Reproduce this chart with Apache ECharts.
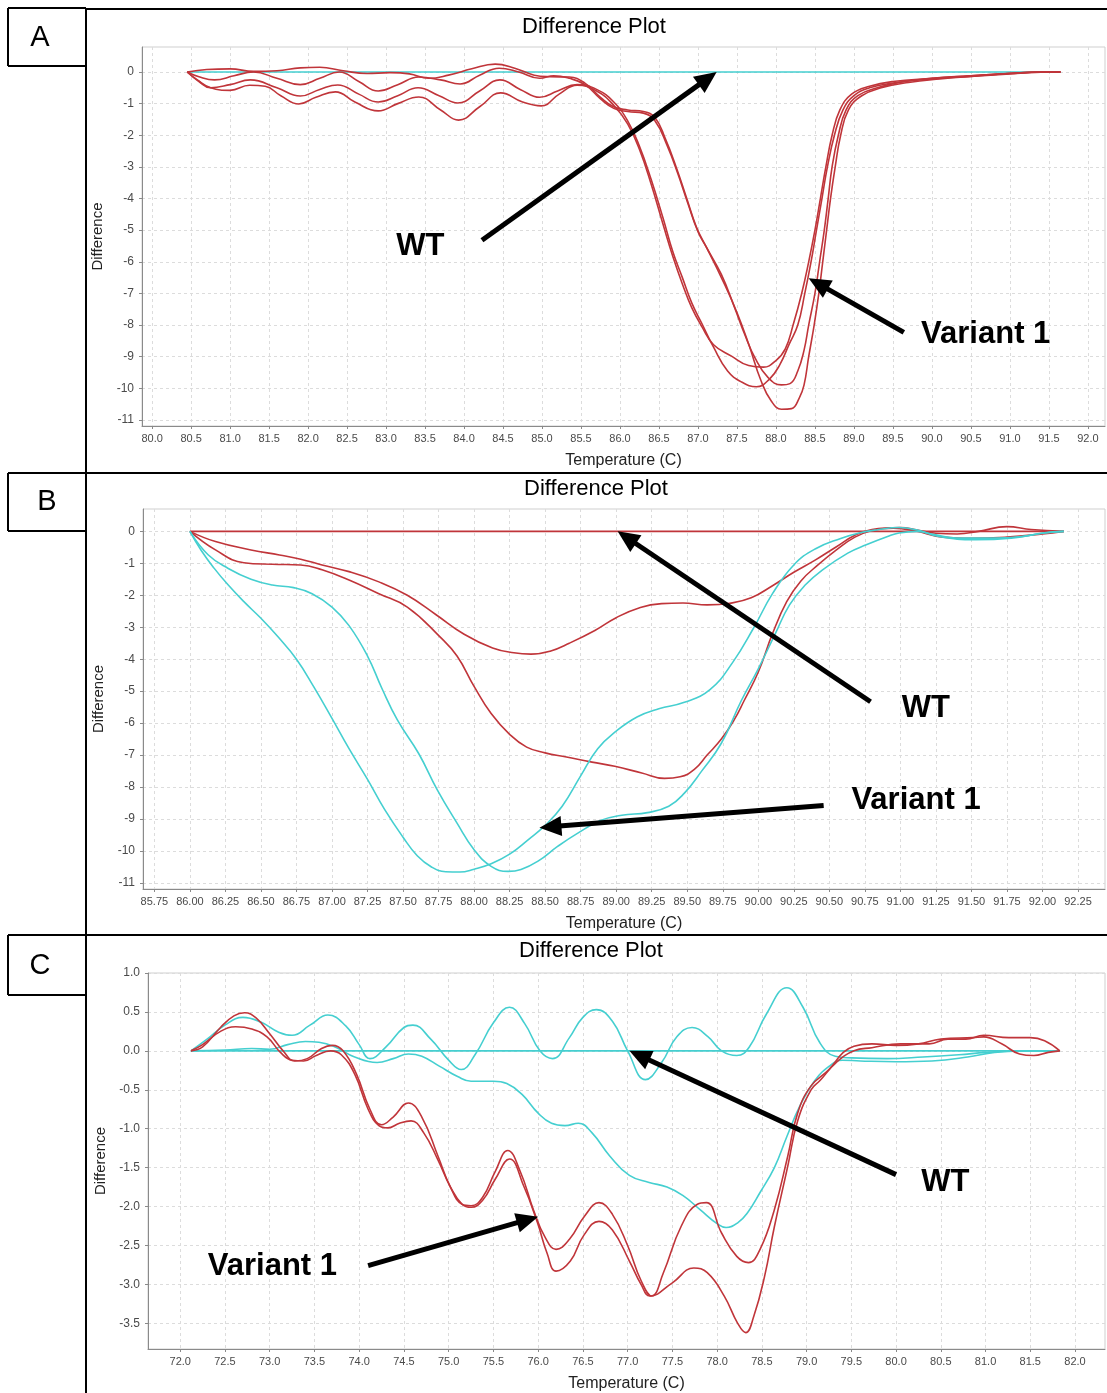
<!DOCTYPE html>
<html>
<head>
<meta charset="utf-8">
<title>Difference Plot</title>
<script src="https://cdn.jsdelivr.net/npm/echarts@6/dist/echarts.min.js"></script>
<style>
  html, body { margin: 0; padding: 0; background: #fff; }
  #chart { width: 1107px; height: 1393px; }
</style>
</head>
<body>
<div id="chart"></div>
<script>
// ---------------- tick labels ----------------
const A_XTICKS = [80.0, 80.5, 81.0, 81.5, 82.0, 82.5, 83.0, 83.5, 84.0, 84.5, 85.0, 85.5, 86.0, 86.5, 87.0, 87.5, 88.0, 88.5, 89.0, 89.5, 90.0, 90.5, 91.0, 91.5, 92.0];
const A_YTICKS = [-11, -10, -9, -8, -7, -6, -5, -4, -3, -2, -1, 0];
const B_XTICKS = [85.75, 86.00, 86.25, 86.50, 86.75, 87.00, 87.25, 87.50, 87.75, 88.00, 88.25, 88.50, 88.75, 89.00, 89.25, 89.50, 89.75, 90.00, 90.25, 90.50, 90.75, 91.00, 91.25, 91.50, 91.75, 92.00, 92.25];
const B_YTICKS = [-11, -10, -9, -8, -7, -6, -5, -4, -3, -2, -1, 0];
const C_XTICKS = [72.0, 72.5, 73.0, 73.5, 74.0, 74.5, 75.0, 75.5, 76.0, 76.5, 77.0, 77.5, 78.0, 78.5, 79.0, 79.5, 80.0, 80.5, 81.0, 81.5, 82.0];
const C_YTICKS = [-3.5, -3.0, -2.5, -2.0, -1.5, -1.0, -0.5, 0.0, 0.5, 1.0];

// ---------------- panel A : [temperature, difference] ----------------
const A_WT = [[80.45, 0], [91.65, 0]];
const A_VAR1_1 = [[80.45,0],[80.7,0.08],[81.0,0.1],[81.3,0.02],[81.6,0.04],[81.9,0.13],[82.15,0.15],[82.45,0.04],[82.75,-0.05],[83.05,-0.02],[83.3,-0.06],[83.55,-0.2],[83.8,-0.1],[84.1,0.1],[84.4,0.25],[84.65,0.12],[84.9,-0.1],[85.1,-0.15],[85.35,-0.16],[85.55,-0.35],[85.75,-0.8],[85.92,-1.1],[86.1,-1.2],[86.3,-1.25],[86.45,-1.45],[86.58,-2.1],[86.72,-3.0],[86.85,-3.95],[86.98,-4.9],[87.1,-5.5],[87.3,-6.4],[87.47,-7.45],[87.6,-8.3],[87.73,-9.03],[87.9,-9.66],[88.07,-9.89],[88.18,-9.85],[88.28,-9.45],[88.36,-8.8],[88.42,-8.0],[88.5,-7.0],[88.56,-6.0],[88.62,-5.0],[88.67,-4.0],[88.72,-3.0],[88.8,-2.0],[88.9,-1.2],[89.05,-0.75],[89.3,-0.5],[89.6,-0.32],[90.0,-0.2],[90.5,-0.12],[91.0,-0.04],[91.4,0],[91.65,0]];
const A_VAR1_2 = [[80.45,0],[80.6,-0.15],[80.8,-0.25],[81.05,-0.12],[81.3,0.0],[81.6,-0.2],[81.9,-0.4],[82.15,-0.2],[82.4,0.0],[82.65,-0.3],[82.9,-0.6],[83.15,-0.4],[83.42,-0.16],[83.7,-0.25],[83.95,-0.38],[84.2,-0.1],[84.45,0.12],[84.7,0.0],[84.97,-0.2],[85.15,-0.12],[85.35,-0.2],[85.55,-0.4],[85.75,-0.85],[85.92,-1.15],[86.1,-1.25],[86.3,-1.3],[86.45,-1.55],[86.6,-2.3],[86.74,-3.2],[86.87,-4.15],[87.0,-5.05],[87.12,-5.6],[87.32,-6.6],[87.5,-7.6],[87.65,-8.6],[87.81,-9.77],[87.94,-10.4],[88.07,-10.66],[88.2,-10.64],[88.3,-10.3],[88.36,-9.9],[88.42,-9.0],[88.49,-8.0],[88.55,-7.0],[88.6,-6.0],[88.65,-5.0],[88.7,-4.0],[88.76,-3.0],[88.83,-2.0],[88.93,-1.2],[89.1,-0.75],[89.35,-0.5],[89.7,-0.33],[90.1,-0.22],[90.6,-0.12],[91.0,-0.05],[91.4,0],[91.65,0]];
const A_VAR1_3 = [[80.45,0],[80.6,-0.3],[80.75,-0.5],[81.0,-0.4],[81.26,-0.25],[81.6,-0.5],[81.9,-0.76],[82.15,-0.55],[82.38,-0.41],[82.65,-0.7],[82.9,-0.95],[83.15,-0.75],[83.41,-0.5],[83.68,-0.75],[83.92,-0.98],[84.2,-0.6],[84.46,-0.25],[84.72,-0.55],[84.97,-0.8],[85.2,-0.6],[85.45,-0.4],[85.7,-0.55],[85.92,-0.95],[86.1,-1.55],[86.25,-2.35],[86.4,-3.4],[86.55,-4.6],[86.68,-5.7],[86.8,-6.5],[86.92,-7.3],[87.05,-7.95],[87.2,-8.7],[87.38,-9.45],[87.56,-9.8],[87.75,-9.95],[87.92,-9.7],[88.05,-9.25],[88.17,-8.6],[88.28,-8.0],[88.37,-7.0],[88.45,-6.0],[88.52,-5.0],[88.59,-4.0],[88.66,-3.0],[88.75,-2.0],[88.86,-1.2],[89.0,-0.75],[89.2,-0.5],[89.5,-0.35],[90.0,-0.22],[90.5,-0.14],[91.0,-0.06],[91.4,-0.01],[91.65,0]];
const A_VAR1_4 = [[80.45,0],[80.58,-0.25],[80.75,-0.5],[81.0,-0.58],[81.25,-0.42],[81.45,-0.45],[81.65,-0.75],[81.88,-1.01],[82.1,-0.8],[82.35,-0.63],[82.6,-0.95],[82.9,-1.23],[83.15,-1.0],[83.42,-0.79],[83.7,-1.2],[83.93,-1.52],[84.2,-1.1],[84.47,-0.66],[84.75,-0.95],[84.99,-1.07],[85.22,-0.7],[85.45,-0.42],[85.7,-0.6],[85.92,-1.05],[86.1,-1.65],[86.25,-2.45],[86.4,-3.55],[86.55,-4.8],[86.68,-5.85],[86.8,-6.7],[86.92,-7.45],[87.05,-8.05],[87.2,-8.62],[87.43,-8.98],[87.65,-9.28],[87.84,-9.33],[88.0,-9.12],[88.12,-8.75],[88.22,-8.0],[88.33,-7.0],[88.42,-6.0],[88.5,-5.0],[88.57,-4.0],[88.64,-3.0],[88.72,-2.0],[88.82,-1.2],[88.97,-0.7],[89.2,-0.45],[89.5,-0.3],[90.0,-0.2],[90.5,-0.12],[91.0,-0.05],[91.4,0],[91.65,0]];

// ---------------- panel B ----------------
const B_WT = [[86.0, 0], [92.15, 0]];
const B_RED_1 = [[86.0,0],[86.18,-0.32],[86.43,-0.58],[86.63,-0.74],[86.78,-0.87],[86.93,-1.05],[87.12,-1.26],[87.33,-1.58],[87.53,-2.0],[87.73,-2.6],[87.93,-3.22],[88.13,-3.65],[88.28,-3.8],[88.4,-3.84],[88.54,-3.74],[88.67,-3.5],[88.85,-3.1],[89.0,-2.7],[89.17,-2.38],[89.32,-2.26],[89.47,-2.24],[89.64,-2.3],[89.8,-2.25],[89.95,-2.08],[90.1,-1.7],[90.25,-1.28],[90.4,-0.9],[90.55,-0.48],[90.68,-0.12],[90.8,0.06],[91.0,0.12],[91.12,0.04],[91.25,-0.06],[91.4,-0.08],[91.55,0.0],[91.75,0.15],[91.92,0.06],[92.15,0]];
const B_RED_2 = [[86.0,0],[86.18,-0.58],[86.38,-0.98],[86.58,-1.03],[86.78,-1.05],[86.93,-1.2],[87.12,-1.52],[87.33,-1.95],[87.53,-2.37],[87.76,-3.3],[87.88,-3.9],[88.0,-4.85],[88.12,-5.7],[88.25,-6.35],[88.37,-6.75],[88.5,-6.93],[88.65,-7.06],[88.83,-7.22],[88.99,-7.35],[89.18,-7.56],[89.34,-7.73],[89.45,-7.68],[89.55,-7.45],[89.64,-7.0],[89.74,-6.5],[89.83,-5.9],[89.9,-5.3],[90.0,-4.4],[90.1,-3.2],[90.2,-2.2],[90.3,-1.55],[90.42,-1.05],[90.55,-0.58],[90.68,-0.18],[90.8,0.03],[90.95,0.1],[91.1,0.02],[91.3,-0.18],[91.5,-0.22],[91.75,-0.18],[92.0,-0.08],[92.15,0]];
const B_VAR1_1 = [[86.0,0],[86.08,-0.6],[86.17,-1.15],[86.27,-1.68],[86.38,-2.2],[86.5,-2.72],[86.62,-3.3],[86.75,-4.0],[86.87,-4.85],[87.0,-5.85],[87.12,-6.8],[87.25,-7.76],[87.37,-8.7],[87.5,-9.57],[87.6,-10.15],[87.7,-10.5],[87.8,-10.65],[87.9,-10.66],[88.0,-10.57],[88.12,-10.4],[88.25,-10.1],[88.38,-9.65],[88.5,-9.2],[88.62,-8.6],[88.75,-7.65],[88.87,-6.8],[89.0,-6.25],[89.15,-5.8],[89.3,-5.55],[89.48,-5.35],[89.66,-4.95],[89.82,-4.1],[89.97,-3.0],[90.1,-1.95],[90.25,-1.05],[90.4,-0.55],[90.58,-0.22],[90.71,-0.05],[90.84,0.05],[90.99,0.12],[91.12,0.04],[91.27,-0.16],[91.53,-0.26],[91.78,-0.21],[92.0,-0.06],[92.15,0]];
const B_VAR1_2 = [[86.0,0],[86.13,-0.74],[86.27,-1.16],[86.43,-1.5],[86.58,-1.68],[86.73,-1.76],[86.86,-1.95],[87.0,-2.37],[87.12,-2.95],[87.25,-3.9],[87.35,-4.9],[87.46,-5.9],[87.61,-6.95],[87.74,-8.08],[87.88,-9.13],[88.0,-9.96],[88.12,-10.48],[88.24,-10.64],[88.33,-10.58],[88.45,-10.32],[88.59,-9.85],[88.73,-9.44],[88.89,-9.05],[89.04,-8.88],[89.22,-8.8],[89.37,-8.6],[89.48,-8.19],[89.6,-7.51],[89.74,-6.63],[89.88,-5.3],[90.0,-4.3],[90.12,-3.2],[90.22,-2.3],[90.33,-1.68],[90.45,-1.21],[90.63,-0.68],[90.76,-0.42],[90.91,-0.16],[90.99,-0.05],[91.12,0],[91.24,-0.1],[91.4,-0.21],[91.65,-0.21],[91.86,-0.16],[92.0,-0.05],[92.15,0]];

// ---------------- panel C ----------------
const C_WT = [[72.12, 0], [81.83, 0]];
const C_WT_2 = [[72.12,0],[72.3,0.15],[72.5,0.33],[72.7,0.43],[72.9,0.37],[73.1,0.24],[73.25,0.2],[73.45,0.33],[73.65,0.46],[73.85,0.32],[74.0,0.08],[74.12,-0.1],[74.3,0.05],[74.5,0.3],[74.6,0.33],[74.8,0.15],[75.0,-0.12],[75.14,-0.24],[75.3,-0.04],[75.5,0.36],[75.68,0.56],[75.85,0.35],[76.02,0.0],[76.16,-0.1],[76.35,0.17],[76.5,0.43],[76.65,0.53],[76.83,0.38],[77.0,0.0],[77.2,-0.37],[77.38,-0.15],[77.55,0.18],[77.72,0.3],[77.9,0.18],[78.05,0.0],[78.22,-0.06],[78.36,0.05],[78.55,0.47],[78.78,0.81],[78.96,0.56],[79.15,0.1],[79.32,-0.07],[79.5,-0.09],[79.9,-0.1],[80.3,-0.08],[80.7,-0.05],[81.0,-0.02],[81.3,0],[81.83,0]];
const C_WT_3 = [[72.12,0],[72.5,0.01],[72.8,0.03],[73.0,0.02],[73.2,0.08],[73.4,0.12],[73.55,0.11],[73.75,0.04],[73.95,-0.08],[74.2,-0.15],[74.38,-0.1],[74.55,-0.04],[74.7,-0.07],[74.9,-0.2],[75.1,-0.33],[75.25,-0.39],[75.5,-0.39],[75.65,-0.42],[75.82,-0.56],[76.0,-0.8],[76.15,-0.93],[76.3,-0.96],[76.45,-0.93],[76.6,-1.05],[76.8,-1.35],[77.02,-1.6],[77.24,-1.69],[77.44,-1.75],[77.62,-1.86],[77.81,-2.04],[78.0,-2.22],[78.1,-2.27],[78.23,-2.21],[78.34,-2.08],[78.48,-1.82],[78.64,-1.5],[78.78,-1.1],[78.92,-0.72],[79.08,-0.4],[79.25,-0.2],[79.4,-0.12],[79.6,-0.13],[80.0,-0.14],[80.4,-0.13],[80.8,-0.08],[81.1,-0.02],[81.4,0],[81.83,0]];
const C_VAR1_1 = [[72.12,0],[72.25,0.05],[72.45,0.3],[72.6,0.45],[72.72,0.49],[72.85,0.42],[73.0,0.22],[73.15,0.0],[73.28,-0.13],[73.42,-0.1],[73.58,0.03],[73.7,0.07],[73.82,0.0],[73.97,-0.3],[74.12,-0.75],[74.25,-0.95],[74.38,-0.85],[74.55,-0.67],[74.7,-0.85],[74.88,-1.35],[75.02,-1.75],[75.15,-1.97],[75.25,-1.99],[75.38,-1.88],[75.52,-1.55],[75.66,-1.28],[75.8,-1.55],[75.95,-2.05],[76.08,-2.4],[76.2,-2.55],[76.35,-2.42],[76.52,-2.12],[76.68,-1.95],[76.83,-2.1],[77.0,-2.5],[77.15,-2.95],[77.27,-3.15],[77.4,-2.85],[77.6,-2.25],[77.78,-1.97],[77.88,-1.95],[78.05,-2.34],[78.22,-2.64],[78.35,-2.72],[78.48,-2.55],[78.64,-2.04],[78.79,-1.35],[78.9,-0.8],[79.05,-0.45],[79.25,-0.24],[79.41,-0.02],[79.53,0.06],[79.73,0.09],[80.0,0.07],[80.25,0.09],[80.5,0.15],[80.86,0.17],[80.98,0.18],[81.18,0.09],[81.38,-0.04],[81.54,-0.06],[81.7,-0.02],[81.83,0]];
const C_VAR1_2 = [[72.12,0],[72.25,0.08],[72.45,0.25],[72.62,0.31],[72.8,0.28],[72.97,0.18],[73.12,-0.02],[73.25,-0.12],[73.38,-0.13],[73.52,-0.06],[73.68,0.0],[73.8,-0.05],[73.95,-0.3],[74.1,-0.75],[74.22,-0.96],[74.32,-0.99],[74.45,-0.93],[74.58,-0.9],[74.72,-1.05],[74.88,-1.4],[75.02,-1.75],[75.15,-1.97],[75.25,-2.01],[75.38,-1.92],[75.52,-1.65],[75.68,-1.39],[75.84,-1.74],[75.99,-2.2],[76.1,-2.6],[76.2,-2.83],[76.36,-2.7],[76.51,-2.37],[76.68,-2.19],[76.83,-2.3],[77.02,-2.7],[77.15,-3.0],[77.25,-3.15],[77.5,-2.98],[77.74,-2.79],[77.89,-2.85],[78.08,-3.15],[78.23,-3.5],[78.32,-3.62],[78.41,-3.41],[78.53,-2.9],[78.64,-2.26],[78.79,-1.48],[78.9,-0.9],[79.05,-0.5],[79.15,-0.38],[79.33,-0.15],[79.53,0.0],[79.73,0.04],[80.05,0.09],[80.37,0.09],[80.58,0.15],[80.78,0.15],[80.98,0.2],[81.26,0.17],[81.5,0.17],[81.66,0.13],[81.83,0]];

// ---------------- layout & style ----------------
const FONT = '"Liberation Sans", Arial, Helvetica, sans-serif';
const RED = '#c0353a';
const CYAN = '#45cfd0';

const PANELS = [
  { grid: { left: 142, top: 47, width: 963, height: 379 }, x: [79.87, 92.22], y: [-11.19, 0.79],
    xTicks: A_XTICKS, yTicks: A_YTICKS, xDec: 1, yDec: 0, title: [594, 27], letter: ['A', 40, 38] },
  { grid: { left: 143, top: 509, width: 962, height: 380 }, x: [85.67, 92.44], y: [-11.19, 0.70],
    xTicks: B_XTICKS, yTicks: B_YTICKS, xDec: 2, yDec: 0, title: [596, 489], letter: ['B', 47, 502] },
  { grid: { left: 148, top: 973, width: 957, height: 377 }, x: [71.64, 82.335], y: [-3.83, 1.0],
    xTicks: C_XTICKS, yTicks: C_YTICKS, xDec: 1, yDec: 1, title: [591, 951], letter: ['C', 40, 966] }
];

const SERIES = [
  { panel: 0, name: 'WT', data: A_WT, color: CYAN },
  { panel: 0, name: 'Variant 1', data: A_VAR1_1, color: RED },
  { panel: 0, name: 'Variant 1', data: A_VAR1_2, color: RED },
  { panel: 0, name: 'Variant 1', data: A_VAR1_3, color: RED },
  { panel: 0, name: 'Variant 1', data: A_VAR1_4, color: RED },
  { panel: 1, name: 'WT', data: B_WT, color: RED },
  { panel: 1, name: 'WT', data: B_RED_1, color: RED },
  { panel: 1, name: 'WT', data: B_RED_2, color: RED },
  { panel: 1, name: 'Variant 1', data: B_VAR1_1, color: CYAN },
  { panel: 1, name: 'Variant 1', data: B_VAR1_2, color: CYAN },
  { panel: 2, name: 'WT', data: C_WT, color: CYAN },
  { panel: 2, name: 'WT', data: C_WT_2, color: CYAN },
  { panel: 2, name: 'WT', data: C_WT_3, color: CYAN },
  { panel: 2, name: 'Variant 1', data: C_VAR1_1, color: RED },
  { panel: 2, name: 'Variant 1', data: C_VAR1_2, color: RED }
];

// callout arrows and their captions, anchored in data coordinates
const CALLOUTS = [
  { panel: 0, from: [84.23, -5.32], to: [87.24, 0], text: 'WT', at: [83.44, -5.51] },
  { panel: 0, from: [89.64, -8.23], to: [88.42, -6.52], text: 'Variant 1', at: [90.69, -8.29] },
  { panel: 1, from: [90.79, -5.33], to: [89.01, 0], text: 'WT', at: [91.18, -5.55] },
  { panel: 1, from: [90.46, -8.58], to: [88.46, -9.27], text: 'Variant 1', at: [91.11, -8.42] },
  { panel: 2, from: [80.0, -1.59], to: [77.02, 0], text: 'WT', at: [80.55, -1.69] },
  { panel: 2, from: [74.1, -2.76], to: [76.0, -2.13], text: 'Variant 1', at: [73.03, -2.77] }
];

// ---------------- option ----------------
const option = {
  animation: false,
  backgroundColor: '#ffffff',
  grid: PANELS.map(p => Object.assign({ show: true, backgroundColor: '#fff', borderColor: '#cfcfcf', borderWidth: 1, containLabel: false }, p.grid)),
  xAxis: PANELS.map((p, i) => ({
    type: 'value', gridIndex: i, min: p.x[0], max: p.x[1],
    name: 'Temperature (C)', nameLocation: 'middle', nameGap: 27,
    nameTextStyle: { fontFamily: FONT, fontSize: 16, color: '#222' },
    axisLine: { show: true, onZero: false, lineStyle: { color: '#8a8a8a', width: 1 } },
    axisTick: { show: true, inside: false, length: 3, customValues: p.xTicks, lineStyle: { color: '#8a8a8a' } },
    axisLabel: { customValues: p.xTicks, margin: 7, fontFamily: FONT, fontSize: 11, color: '#4a4a4a',
      formatter: v => Number(v).toFixed(p.xDec) },
    splitLine: { show: true, lineStyle: { color: '#dcdcdc', width: 1, type: [3, 3] } }
  })),
  yAxis: PANELS.map((p, i) => ({
    type: 'value', gridIndex: i, min: p.y[0], max: p.y[1],
    name: 'Difference', nameLocation: 'middle', nameGap: 36, nameRotate: 90,
    nameTextStyle: { fontFamily: FONT, fontSize: 15, color: '#222' },
    axisLine: { show: true, onZero: false, lineStyle: { color: '#8a8a8a', width: 1 } },
    axisTick: { show: true, inside: false, length: 3, customValues: p.yTicks, lineStyle: { color: '#8a8a8a' } },
    axisLabel: { customValues: p.yTicks, margin: 8, fontFamily: FONT, fontSize: 12, color: '#4a4a4a',
      formatter: v => Number(v).toFixed(p.yDec) },
    splitLine: { show: true, lineStyle: { color: '#dcdcdc', width: 1, type: [3, 3] } }
  })),
  series: SERIES.map(s => ({
    type: 'line', name: s.name, xAxisIndex: s.panel, yAxisIndex: s.panel,
    data: s.data, showSymbol: false, smooth: 0.45, silent: true, clip: true,
    lineStyle: { color: s.color, width: 1.6 }
  }))
};

const chart = echarts.init(document.getElementById('chart'), null, { renderer: 'canvas' });
chart.setOption(option);

// ---------------- frame, titles, panel letters, callouts ----------------
const graphics = [];
const BLACK = '#000';
function seg(x1, y1, x2, y2, w) {
  graphics.push({ type: 'line', shape: { x1, y1, x2, y2 }, style: { stroke: BLACK, lineWidth: w || 2 }, silent: true, z: 100 });
}
function label(text, x, y, font) {
  graphics.push({ type: 'text', x, y, silent: true, z: 101,
    style: { text, font, fill: BLACK, align: 'center', verticalAlign: 'middle', textAlign: 'center', textVerticalAlign: 'middle' } });
}

// panel frames and letter boxes
seg(86, 8, 86, 1393);
seg(86, 9, 1107, 9);
seg(8, 473, 1107, 473);
seg(8, 935, 1107, 935);
[[8, 66], [473, 531], [935, 995]].forEach(([t, b]) => {
  seg(8, t, 86, t);
  seg(8, b, 86, b);
  seg(8, t, 8, b);
});

PANELS.forEach(p => {
  label('Difference Plot', p.title[0], p.title[1], 'normal 22px ' + FONT);
  label(p.letter[0], p.letter[1], p.letter[2], 'normal 29px ' + FONT);
});

CALLOUTS.forEach(c => {
  const finder = { gridIndex: c.panel };
  const p0 = chart.convertToPixel(finder, c.from);
  const p1 = chart.convertToPixel(finder, c.to);
  const dx = p1[0] - p0[0], dy = p1[1] - p0[1];
  const len = Math.hypot(dx, dy);
  const ux = dx / len, uy = dy / len;
  const headLen = 22, headHalf = 10;
  const bx = p1[0] - ux * headLen, by = p1[1] - uy * headLen;
  seg(p0[0], p0[1], bx + ux * 2, by + uy * 2, 5);
  graphics.push({ type: 'polygon', silent: true, z: 100,
    shape: { points: [[p1[0], p1[1]], [bx - uy * headHalf, by + ux * headHalf], [bx + uy * headHalf, by - ux * headHalf]] },
    style: { fill: BLACK } });
  const t = chart.convertToPixel(finder, c.at);
  label(c.text, t[0], t[1], 'bold 31px ' + FONT);
});

chart.setOption({ graphic: graphics });
</script>
</body>
</html>
